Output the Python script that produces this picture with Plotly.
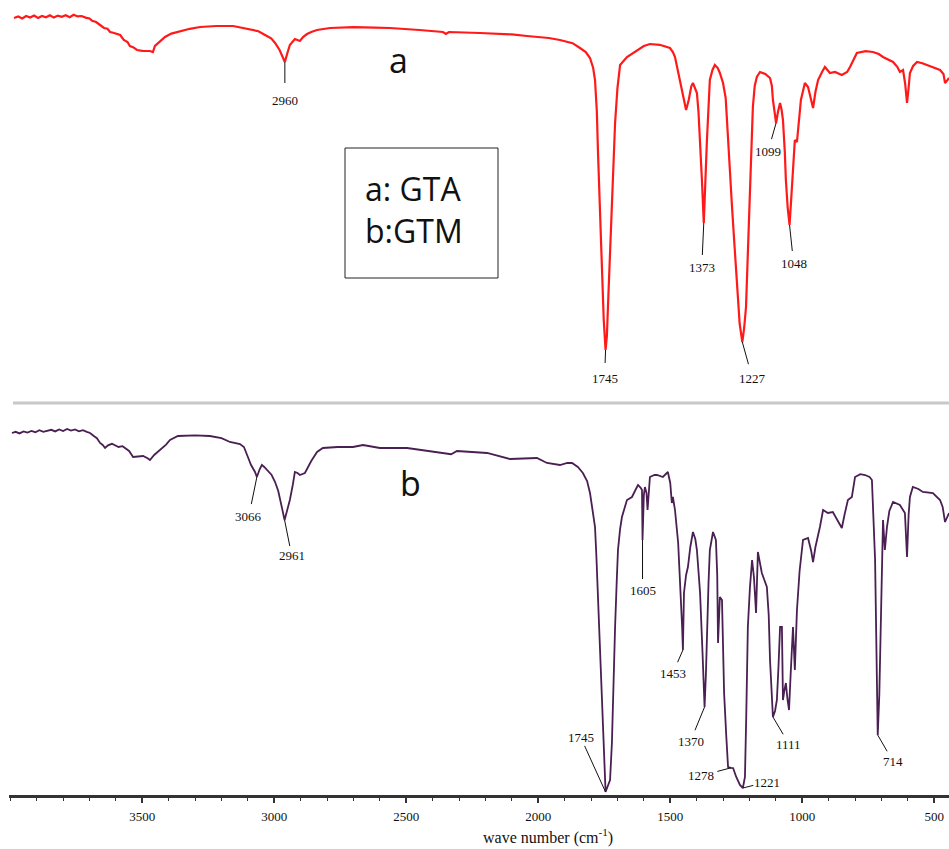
import numpy as np
import plotly.graph_objects as go

# ---------------- data (wavenumber cm-1, transmittance-like %) ----------------
gta_wn = [3986, 3970, 3955, 3940, 3925, 3910, 3895, 3880, 3865, 3850, 3835, 3820, 3805, 3790, 3775,
          3760, 3745, 3730, 3715, 3700, 3690, 3675, 3660, 3645, 3632, 3622, 3610, 3600, 3584, 3570,
          3556, 3547, 3535, 3520, 3500, 3471, 3460, 3452, 3430, 3414, 3390, 3357, 3320, 3281, 3220,
          3156, 3092, 3060, 3035, 3012, 2997, 2980, 2970, 2960, 2950, 2941, 2922, 2910, 2903, 2890,
          2876, 2860, 2838, 2789, 2700, 2620, 2562, 2450, 2361, 2350, 2338, 2221, 2100, 2043, 1960,
          1918, 1870, 1842, 1820, 1804, 1792, 1785, 1778, 1774, 1766, 1759, 1752, 1745, 1740, 1736,
          1728, 1721, 1715, 1709, 1700, 1690, 1664, 1626, 1600, 1577, 1540, 1501, 1490, 1482, 1470,
          1463, 1450, 1440, 1430, 1420, 1414, 1405, 1399, 1393, 1387, 1380, 1373, 1367, 1361, 1350,
          1340, 1331, 1320, 1312, 1300, 1290, 1285, 1275, 1266, 1256, 1247, 1237, 1227, 1220, 1213,
          1207, 1202, 1195, 1187, 1180, 1172, 1160, 1140, 1122, 1115, 1111, 1104, 1099, 1092, 1084,
          1078, 1073, 1066, 1062, 1055, 1048, 1042, 1035, 1028, 1020, 1012, 1005, 990, 978, 968,
          959, 950, 940, 925, 914, 895, 876, 850, 830, 819, 805, 793, 760, 732, 710,
          694, 656, 640, 630, 618, 610, 603, 597, 592, 580, 565, 545, 527, 500, 478,
          465, 459, 452, 444]
gta_t = [95.5, 95.9, 95.4, 96.0, 95.6, 96.1, 95.5, 96.0, 95.7, 96.2, 95.6, 96.1, 95.8, 96.2, 95.7,
         96.3, 95.9, 96.0, 95.6, 95.4, 94.8, 94.5, 93.75, 93.0, 92.8, 92.0, 91.8, 91.6, 91.25, 90.0,
         89.5, 88.5, 88.2, 87.5, 87.3, 87.25, 87.0, 88.5, 89.8, 90.75, 91.6, 92.25, 92.8, 93.25, 93.5,
         93.5, 92.75, 92.2, 91.25, 90.4, 89.25, 87.5, 86.0, 84.5, 86.8, 88.75, 90.25, 90.0, 89.75, 90.8,
         91.5, 92.0, 92.5, 93.0, 93.2, 93.1, 93.0, 92.5, 92.0, 91.5, 92.0, 91.75, 91.4, 91.0, 90.5,
         90.0, 89.2, 88.0, 87.0, 85.5, 83.0, 80.0, 72.0, 62.5, 45.0, 31.75, 20.0, 12.5, 16.0, 23.25,
         38.0, 48.25, 60.0, 69.25, 78.0, 83.75, 85.75, 87.5, 88.5, 89.0, 88.8, 88.0, 87.0, 85.75, 82.0,
         79.25, 75.5, 72.5, 75.0, 78.5, 79.25, 78.0, 76.75, 72.0, 65.0, 55.0, 44.25, 55.0, 65.0, 80.0,
         82.5, 83.75, 83.0, 81.75, 79.25, 75.5, 69.25, 58.0, 48.25, 38.0, 27.5, 19.0, 14.5, 18.0, 23.25,
         35.0, 48.25, 62.0, 73.25, 78.5, 80.75, 82.0, 81.5, 80.5, 78.5, 75.0, 72.0, 69.25, 72.0, 74.25,
         72.5, 70.0, 62.0, 55.0, 48.0, 43.75, 50.0, 58.25, 65.0, 64.5, 70.0, 75.0, 79.25, 78.25, 75.5,
         73.0, 77.0, 80.0, 82.0, 83.25, 81.75, 82.0, 81.25, 82.0, 83.25, 85.0, 86.75, 87.2, 87.0, 86.5,
         85.75, 84.5, 83.3, 82.0, 82.5, 79.0, 74.25, 78.0, 81.75, 83.5, 84.5, 84.2, 83.75, 83.2, 82.5,
         81.5, 79.25, 79.8, 80.5]

gtm_wn = [3994, 3980, 3965, 3950, 3935, 3920, 3905, 3890, 3875, 3860, 3845, 3830, 3815, 3800, 3785,
          3770, 3755, 3740, 3725, 3710, 3698, 3685, 3672, 3660, 3650, 3641, 3630, 3615, 3603, 3590,
          3575, 3566, 3550, 3535, 3520, 3497, 3480, 3471, 3455, 3433, 3410, 3395, 3365, 3300, 3244,
          3200, 3168, 3130, 3115, 3100, 3088, 3073, 3066, 3055, 3047, 3038, 3028, 3010, 2997, 2985,
          2975, 2968, 2961, 2950, 2941, 2930, 2922, 2912, 2903, 2884, 2860, 2838, 2816, 2760, 2702,
          2664, 2600, 2497, 2410, 2346, 2330, 2308, 2194, 2107, 2005, 1967, 1940, 1918, 1890, 1872,
          1850, 1831, 1815, 1804, 1795, 1785, 1780, 1774, 1766, 1759, 1752, 1745, 1738, 1728, 1721,
          1715, 1709, 1703, 1698, 1690, 1683, 1664, 1645, 1630, 1622, 1612, 1607, 1605, 1600, 1596,
          1590, 1586, 1580, 1577, 1560, 1550, 1528, 1509, 1500, 1494, 1490, 1482, 1470, 1463, 1455,
          1452, 1448, 1440, 1433, 1424, 1414, 1405, 1399, 1392, 1387, 1378, 1370, 1365, 1361, 1355,
          1350, 1338, 1327, 1322, 1319, 1315, 1312, 1304, 1300, 1296, 1288, 1281, 1270, 1262, 1250,
          1236, 1225, 1217, 1212, 1206, 1198, 1190, 1183, 1175, 1168, 1160, 1153, 1134, 1127, 1122,
          1115, 1111, 1103, 1096, 1090, 1084, 1077, 1073, 1068, 1062, 1056, 1050, 1044, 1035, 1028,
          1020, 1010, 997, 978, 966, 959, 950, 933, 921, 903, 884, 865, 850, 840, 827,
          812, 800, 780, 762, 745, 736, 724, 719, 714, 708, 702, 694, 687, 679, 670,
          656, 630, 611, 607, 603, 597, 592, 581, 560, 543, 505, 478, 468, 459, 452,
          444]
gtm_t = [90.5, 90.8, 90.4, 90.9, 90.6, 91.0, 90.7, 91.2, 90.8, 91.0, 91.3, 90.9, 91.4, 91.0, 91.5,
         91.1, 91.4, 90.9, 91.2, 90.8, 90.5, 89.8, 89.2, 88.0, 87.5, 86.75, 87.4, 87.8, 87.5, 87.0,
         87.2, 86.75, 86.0, 84.5, 84.6, 84.75, 84.2, 83.75, 85.0, 86.25, 87.6, 88.75, 89.75, 89.9, 89.75,
         89.2, 88.25, 87.75, 87.0, 84.5, 82.5, 80.75, 79.5, 81.5, 82.5, 82.0, 81.25, 80.0, 78.25, 76.0,
         73.0, 70.5, 68.75, 71.5, 73.75, 77.5, 80.75, 80.5, 80.0, 80.5, 83.5, 85.75, 86.75, 87.0, 87.0,
         87.5, 86.75, 86.75, 86.0, 85.5, 85.2, 86.0, 85.5, 84.0, 84.25, 83.0, 82.8, 82.5, 83.0, 83.0,
         82.0, 80.5, 78.5, 75.5, 71.5, 67.0, 60.0, 50.5, 37.0, 25.5, 12.0, 0.75, 2.0, 3.75, 13.0,
         30.0, 42.0, 53.0, 61.25, 66.5, 69.5, 73.75, 74.5, 76.5, 77.5, 76.8, 76.25, 63.75, 75.0, 77.0,
         75.5, 71.25, 78.5, 79.5, 80.0, 80.0, 79.5, 80.75, 78.0, 73.0, 74.5, 71.25, 63.0, 54.5, 42.0,
         36.25, 50.5, 55.0, 57.0, 62.0, 65.75, 64.0, 61.25, 55.0, 50.5, 36.0, 22.0, 30.0, 42.0, 53.0,
         61.25, 65.75, 63.75, 55.0, 38.0, 45.0, 49.5, 48.75, 38.0, 25.5, 15.0, 7.0, 6.8, 6.75, 4.5,
         2.5, 1.75, 4.5, 20.0, 42.0, 52.0, 58.75, 54.5, 45.5, 60.75, 58.0, 55.5, 52.0, 45.0, 33.75,
         24.0, 19.5, 21.0, 23.75, 32.0, 42.0, 42.0, 23.75, 26.0, 28.0, 24.0, 21.25, 30.0, 42.0, 31.25,
         46.25, 56.0, 63.75, 64.25, 61.0, 58.25, 62.0, 67.0, 71.25, 70.5, 70.75, 68.5, 66.75, 70.0, 73.75,
         74.5, 79.5, 80.2, 80.0, 79.5, 78.75, 58.75, 38.0, 15.0, 25.0, 42.0, 68.75, 61.25, 67.0, 71.0,
         73.25, 72.5, 70.5, 65.0, 59.5, 70.0, 74.5, 77.0, 76.5, 75.75, 75.5, 73.75, 72.0, 68.25, 69.5,
         70.5]

x_ticks = [3500, 3000, 2500, 2000, 1500, 1000, 500]
series_names = ["a: GTA", "b:GTM"]

# peak labels: (text, wavenumber)
peaks_a = [("2960", 2960), ("1745", 1745), ("1373", 1373), ("1227", 1227), ("1099", 1099), ("1048", 1048)]
peaks_b = [("3066", 3066), ("2961", 2961), ("1605", 1605), ("1453", 1452), ("1370", 1370),
           ("1278", 1270), ("1221", 1225), ("1111", 1111), ("714", 714), ("1745", 1745)]

# label offsets (pixels) & gap
off_a = {"2960": (0, 38, 9), "1745": (-1, 28, 7), "1373": (-2, 44, 4), "1227": (10, 36, 6),
         "1099": (-8, 28, 4), "1048": (4, 38, 4)}
off_b = {"3066": (-8, 39, 4), "2961": (7, 35, 1), "1605": (0, 50, 3), "1453": (-10, 23, 3),
         "1370": (-14, 34, 3), "1278": (-30, 8, 3), "1221": (24, -6, 0), "1111": (16, 27, 2),
         "714": (15, 26, 2), "1745": (-25, -55, 1)}

# ---------------- layout geometry ----------------
W, H = 949, 849
ML, MB = 9, 54
PH = H - MB          # plot height in px (795)
PW = W - ML          # plot width in px (940)


def px(xp):
    return (xp - ML) / PW


def py(yp):
    return 1 - yp / PH


fig = go.Figure()
fig.add_trace(go.Scatter(x=gta_wn, y=gta_t, mode="lines", xaxis="x2", yaxis="y",
                         line=dict(color="#ff1a1a", width=2.2), name=series_names[0],
                         showlegend=False))
fig.add_trace(go.Scatter(x=gtm_wn, y=gtm_t, mode="lines", xaxis="x", yaxis="y2",
                         line=dict(color="#4a1f52", width=1.8), name=series_names[1],
                         showlegend=False))

label_font = dict(family="Liberation Serif", size=13, color="#111111")
annotations = []
for panel, plist, offs in (("a", peaks_a, off_a), ("b", peaks_b, off_b)):
    wn = gta_wn if panel == "a" else gtm_wn
    tt = gta_t if panel == "a" else gtm_t
    for text, w in plist:
        yv = float(np.interp(w, wn[::-1], tt[::-1]))
        ax, ay, sso = offs[text]
        annotations.append(dict(
            x=w, y=yv, xref="x2" if panel == "a" else "x", yref="y" if panel == "a" else "y2",
            text=text, showarrow=True, arrowhead=0, arrowwidth=1, arrowcolor="#111111",
            ax=ax, ay=ay, startstandoff=sso, font=label_font, borderpad=0))

big_font = dict(family="Open Sans", size=34, color="#111111")
legend_font = dict(family="Open Sans", size=32, color="#111111")


def ptext(x, y, text, font, xanchor="center"):
    return dict(x=px(x), y=py(y), xref="paper", yref="paper", text=text, showarrow=False,
                xanchor=xanchor, yanchor="middle", font=font)


annotations += [
    ptext(398, 60, "a", big_font),
    ptext(410, 483, "b", big_font),
    ptext(363, 189, series_names[0], legend_font, "left"),
    ptext(363, 231, series_names[1], legend_font, "left"),
    ptext(548, 836, "wave number (cm<sup>-1</sup>)",
          dict(family="Liberation Serif", size=16, color="#111111")),
]

shapes = [
    dict(type="rect", xref="paper", yref="paper", x0=px(345), x1=px(498), y0=py(278), y1=py(148),
         line=dict(color="#222222", width=1)),
    dict(type="line", xref="paper", yref="paper", x0=px(13), x1=px(949), y0=py(403), y1=py(403),
         line=dict(color="#c8c8c8", width=3)),
]

fig.update_layout(
    width=W, height=H,
    margin=dict(l=ML, r=0, t=0, b=MB),
    paper_bgcolor="white", plot_bgcolor="white",
    showlegend=False,
    xaxis=dict(domain=[0, 1], anchor="y2", range=[4005, 444], showgrid=False, zeroline=False,
               showline=True, linecolor="#333333", linewidth=2.5,
               tickmode="array", tickvals=x_ticks, ticks="outside", ticklen=5, tickwidth=1.5,
               tickcolor="#333333", ticklabelstandoff=3,
               tickfont=dict(family="Liberation Serif", size=13, color="#111111"),
               minor=dict(dtick=100, tick0=500, ticks="outside", ticklen=3, tickwidth=1,
                          tickcolor="#333333")),
    xaxis2=dict(domain=[0, 1], anchor="y", matches="x", visible=False),
    yaxis=dict(domain=[1 - 400 / PH, 1], range=[0, 100], visible=False, anchor="x2"),
    yaxis2=dict(domain=[0, 400 / PH], range=[0, 100], visible=False, anchor="x"),
    annotations=annotations,
    shapes=shapes,
)

fig.write_html("out.html")
